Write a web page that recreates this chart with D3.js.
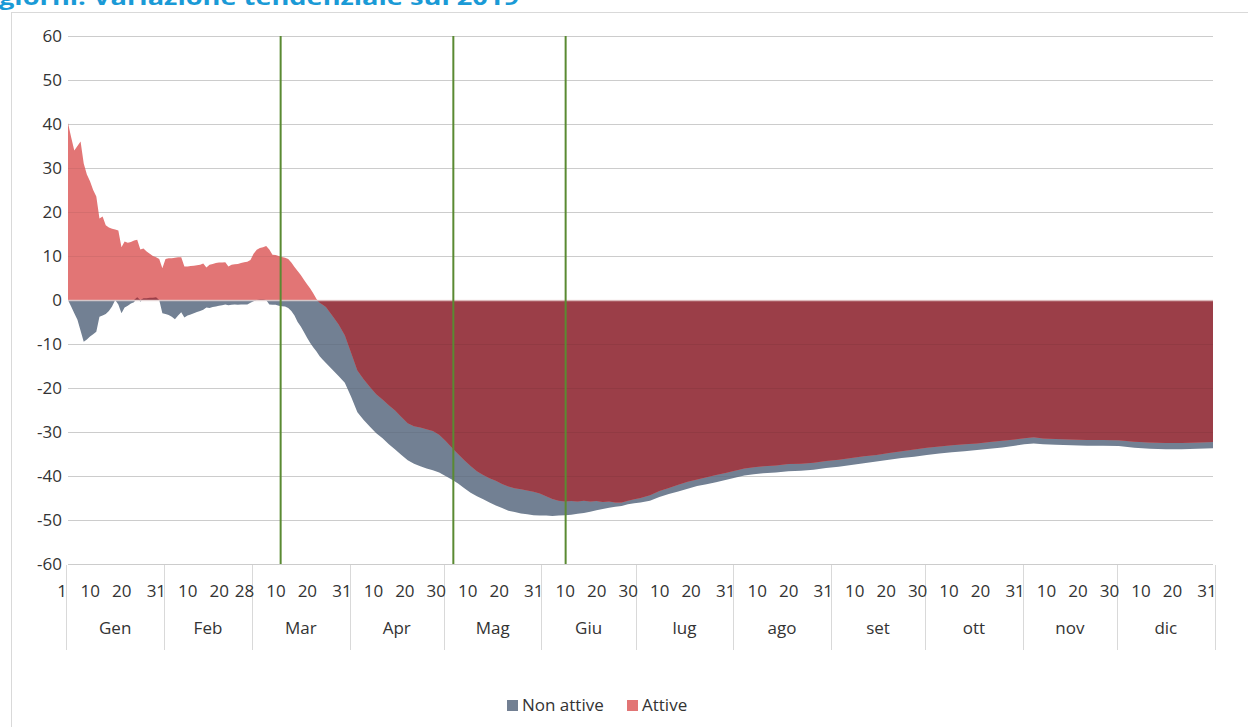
<!DOCTYPE html>
<html><head><meta charset="utf-8">
<script src="https://cdn.jsdelivr.net/npm/d3@7"></script>
<style>
body{margin:0;background:#fff;overflow:hidden}
svg{display:block}
text{font-family:"Open Sans",sans-serif}
</style>
</head><body>
<svg id="chart" width="1248" height="727"></svg>
<script>
// ---- data (day of year, 2020 vs 2019, %) ----
const days = [1,2,3,4,5,6,7,8,9,10,11,12,13,14,15,16,17,18,19,20,21,22,23,24,25,26,27,28,29,30,31,32,33,34,35,36,37,38,39,40,41,42,43,44,45,46,47,48,49,50,51,52,53,54,55,56,57,58,59,60,61,62,63,64,65,66,67,68,69,70,71,72,73,74,75,76,77,78,79,80,81,82,83,85,87,89,91,93,95,97,99,101,103,105,107,109,111,113,115,117,119,121,123,125,127,129,131,133,135,137,139,141,143,145,147,149,151,153,155,157,159,161,163,165,167,169,171,173,175,177,179,181,183,186,189,192,195,198,201,204,207,210,213,216,219,222,226,230,234,238,242,246,250,254,258,262,266,270,274,278,282,286,290,294,298,302,305,308,311,315,320,325,330,335,340,345,350,355,360,365];
const attive = [40.2,37,34,35,36,31,28.5,27,25,23.5,18.5,19,17,16.5,16.2,16,15.8,12,13.3,13,13.2,13.5,13.7,11.5,11.7,11,10.5,10,9.7,9.3,7.2,9.3,9.5,9.5,9.6,9.7,9.7,7.6,7.6,7.7,7.8,7.9,8,8.3,7.4,8,8.2,8.4,8.5,8.5,8.6,7.6,8,8.1,8.2,8.4,8.6,8.7,9.1,10.5,11.4,11.8,12,12.3,11.5,10.3,10.2,10,9.8,9.6,9.3,8.5,7.5,6.6,5.7,4.6,3.6,2.6,1.5,0.2,-0.6,-1.1,-1.6,-3.5,-5.5,-8,-12,-16,-18,-19.8,-21.4,-22.6,-23.9,-25.1,-26.6,-28,-28.7,-29,-29.4,-29.8,-30.6,-32,-33.5,-35,-36.4,-37.7,-38.9,-39.8,-40.5,-41.1,-41.8,-42.4,-42.8,-43,-43.3,-43.6,-44,-44.6,-45.2,-45.6,-45.8,-45.7,-45.8,-45.6,-45.8,-45.7,-45.9,-45.8,-46,-46,-45.6,-45.3,-45,-44.4,-43.4,-42.7,-42,-41.3,-40.8,-40.3,-39.8,-39.3,-38.8,-38.3,-38,-37.8,-37.6,-37.3,-37.2,-37,-36.6,-36.3,-35.9,-35.5,-35.2,-34.8,-34.4,-34,-33.6,-33.3,-33,-32.8,-32.6,-32.3,-32,-31.7,-31.4,-31.2,-31.5,-31.6,-31.7,-31.8,-31.8,-31.9,-32.2,-32.4,-32.5,-32.5,-32.4,-32.3];
const nonAttive = [0,-1.5,-3,-4.5,-7,-9.5,-9,-8.3,-7.8,-7.2,-3.8,-3.5,-3.2,-2.5,-1.5,0,-1,-3,-1.7,-1.3,-0.8,-0.5,0.6,-0.4,0.4,0.4,0.5,0.5,0.6,0,-3,-3.2,-3.4,-3.8,-4.4,-3.5,-2.8,-4,-3.5,-3.3,-3,-2.7,-2.5,-2.2,-1.7,-1.8,-1.6,-1.5,-1.3,-1.2,-1,-1.2,-1.1,-1,-1.1,-1,-1,-1,-0.6,-0.3,0,0.1,0.1,0,-1,-1.1,-1.1,-1.3,-1.4,-1.5,-1.8,-2.5,-3.5,-5,-6,-7.3,-8.6,-9.8,-10.8,-11.7,-12.8,-13.6,-14.3,-15.8,-17.3,-18.8,-22,-25.5,-27.3,-28.8,-30.3,-31.4,-32.8,-34,-35.2,-36.4,-37.2,-37.8,-38.3,-38.7,-39.2,-40,-40.8,-41.7,-42.8,-43.8,-44.6,-45.3,-46,-46.7,-47.3,-47.9,-48.2,-48.5,-48.7,-48.9,-49,-49,-49.1,-49,-48.9,-48.8,-48.6,-48.4,-48.1,-47.8,-47.5,-47.2,-47,-46.8,-46.4,-46.2,-46,-45.6,-44.8,-44.1,-43.5,-42.9,-42.3,-41.9,-41.4,-40.9,-40.4,-39.9,-39.6,-39.4,-39.2,-38.9,-38.8,-38.6,-38.2,-37.9,-37.5,-37.1,-36.7,-36.3,-35.9,-35.6,-35.2,-34.9,-34.6,-34.4,-34.1,-33.8,-33.5,-33.1,-32.8,-32.6,-32.8,-32.9,-33,-33.1,-33.1,-33.2,-33.6,-33.8,-33.9,-33.9,-33.8,-33.7];

const months = ["Gen","Feb","Mar","Apr","Mag","Giu","lug","ago","set","ott","nov","dic"];
const monthLengths = [31,28,31,30,31,30,31,31,30,31,30,31];
const dayLabels = [["1","10","20","31"],["10","20","28"],["10","20","31"],["10","20","30"],["10","20","31"],["10","20","30"],["10","20","31"],["10","20","31"],["10","20","30"],["10","20","31"],["10","20","30"],["10","20","31"]];
const yTicks = [60,50,40,30,20,10,0,-10,-20,-30,-40,-50,-60];
const eventDays = [68.6, 123.5, 159.2];
const seriesNames = ["Non attive","Attive"];
const titleText = "giorni. Variazione tendenziale sul 2019";

// ---- colours ----
const cGrey = "#728093", cRed = "#E27575", cDark = "#9B3E48", cGreen = "#5A8A32", cText = "#333333";

const svg = d3.select("#chart");
const x = d3.scaleLinear().domain([1,365]).range([68,1213]);
const y = d3.scaleLinear().domain([-60,60]).range([564,36]);

// frame + title
svg.append("rect").attr("x",11.5).attr("y",12.5).attr("width",1300).attr("height",800)
  .attr("fill","none").attr("stroke","#D9D9D9");
svg.append("text").attr("x",-1).attr("y",5).attr("fill","#1A9AD6")
  .attr("font-size",21).attr("font-weight",700)
  .attr("textLength",520).attr("lengthAdjust","spacingAndGlyphs").text(titleText);

// gridlines
svg.append("g").selectAll("line").data(yTicks).join("line")
  .attr("x1",68).attr("x2",1213).attr("y1",d=>y(d)+0.5).attr("y2",d=>y(d)+0.5)
  .attr("stroke","#D9D9D9").attr("stroke-width",1);

const pts = days.map((d,i)=>({d, a:attive[i], n:nonAttive[i],
  o: (attive[i]*nonAttive[i] > 0) ? Math.sign(attive[i])*Math.min(Math.abs(attive[i]),Math.abs(nonAttive[i])) : 0}));

const area = key => d3.area().x(p=>x(p.d)).y0(y(0)).y1(p=>y(p[key]));
svg.append("path").datum(pts).attr("d",area("n")).attr("fill",cGrey);
svg.append("path").datum(pts).attr("d",area("a")).attr("fill",cRed);
svg.append("path").datum(pts).attr("d",area("o")).attr("fill",cDark);

// faint gridlines through the areas
svg.append("g").selectAll("line").data(yTicks.filter(v=>v!==0)).join("line")
  .attr("x1",68).attr("x2",1213).attr("y1",d=>y(d)+0.5).attr("y2",d=>y(d)+0.5)
  .attr("stroke","rgba(0,0,0,0.06)");
svg.append("line").attr("x1",68).attr("x2",1213).attr("y1",y(0)+0.5).attr("y2",y(0)+0.5)
  .attr("stroke","rgba(235,215,215,0.8)").attr("stroke-width",1.5);

// event lines
svg.append("g").selectAll("line").data(eventDays).join("line")
  .attr("x1",d=>x(d)).attr("x2",d=>x(d)).attr("y1",y(60)).attr("y2",y(-60))
  .attr("stroke",cGreen).attr("stroke-width",2);

// y axis labels
svg.append("g").selectAll("text").data(yTicks).join("text")
  .attr("x",62).attr("y",d=>y(d)).attr("dy","0.35em").attr("text-anchor","end")
  .attr("font-size",17).attr("fill",cText).text(d=>d);

// x axis: month separators, day labels, month labels
const offsets = monthLengths.map((m,i)=>d3.sum(monthLengths.slice(0,i)));
const seps = offsets.concat([365]).map(o=>x(o+0.5));
svg.append("g").selectAll("line").data(seps).join("line")
  .attr("x1",d=>Math.round(d)+0.5).attr("x2",d=>Math.round(d)+0.5).attr("y1",565).attr("y2",650)
  .attr("stroke","#D9D9D9");
const ticks = [];
dayLabels.forEach((arr,i)=>arr.forEach(l=>ticks.push({d:offsets[i]+(+l), l})));
svg.append("g").selectAll("text").data(ticks).join("text")
  .attr("x",t=>x(t.d)-6).attr("y",591).attr("dy","0.35em").attr("text-anchor","middle")
  .attr("font-size",17).attr("fill",cText).text(t=>t.l);
svg.append("g").selectAll("text").data(months).join("text")
  .attr("x",(m,i)=>(seps[i]+seps[i+1])/2).attr("y",628).attr("dy","0.35em").attr("text-anchor","middle")
  .attr("font-size",17).attr("fill",cText).text(m=>m);

// legend
const lg = svg.append("g");
const legendItems = [{n:seriesNames[0],c:cGrey,x:507},{n:seriesNames[1],c:cRed,x:627}];
lg.selectAll("rect").data(legendItems).join("rect")
  .attr("x",d=>d.x).attr("y",700).attr("width",11).attr("height",11).attr("fill",d=>d.c);
lg.selectAll("text").data(legendItems).join("text")
  .attr("x",d=>d.x+15).attr("y",705.5).attr("dy","0.35em")
  .attr("font-size",17).attr("fill",cText).text(d=>d.n);
</script>
</body></html>
